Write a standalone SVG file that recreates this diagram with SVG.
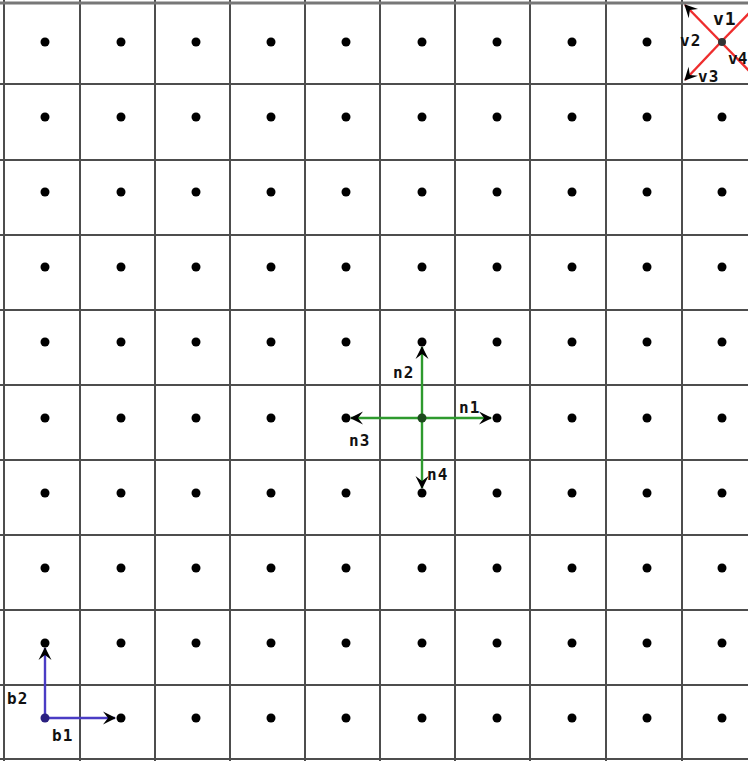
<svg xmlns="http://www.w3.org/2000/svg" width="748" height="761" viewBox="0 0 748 761">
<style>
.grid line{stroke:#4d4d4d;stroke-width:2}
.dot{fill:#000}
.lbl{font-family:"DejaVu Sans Mono","Liberation Mono",monospace;font-weight:bold;font-size:16px;fill:#111;letter-spacing:1px}
.g{stroke:#2e9a2e;stroke-width:2.4;fill:none}
.b{stroke:#4a3cc4;stroke-width:2.4;fill:none}
.r{stroke:#ee2d2d;stroke-width:2.4;fill:none}
</style>
<defs>
<marker id="ah" viewBox="-14 -8 16 16" markerWidth="16" markerHeight="16" refX="0" refY="0" orient="auto" markerUnits="userSpaceOnUse">
<path d="M1,0 L-12,-6.5 L-7,0 L-12,6.5 Z" fill="#000"/>
</marker>
</defs>
<rect width="748" height="761" fill="#fff"/>
<g id="grid" class="grid">
<line x1="4" y1="0" x2="4" y2="761"/>
<line x1="80" y1="0" x2="80" y2="761"/>
<line x1="155" y1="0" x2="155" y2="761"/>
<line x1="230" y1="0" x2="230" y2="761"/>
<line x1="305" y1="0" x2="305" y2="761"/>
<line x1="380" y1="0" x2="380" y2="761"/>
<line x1="455" y1="0" x2="455" y2="761"/>
<line x1="530" y1="0" x2="530" y2="761"/>
<line x1="606" y1="0" x2="606" y2="761"/>
<line x1="682" y1="0" x2="682" y2="761"/>
<line x1="0" y1="3" x2="748" y2="3" style="stroke:#777;stroke-width:3"/>
<line x1="0" y1="84" x2="748" y2="84"/>
<line x1="0" y1="160" x2="748" y2="160"/>
<line x1="0" y1="235" x2="748" y2="235"/>
<line x1="0" y1="310" x2="748" y2="310"/>
<line x1="0" y1="385" x2="748" y2="385"/>
<line x1="0" y1="460" x2="748" y2="460"/>
<line x1="0" y1="535" x2="748" y2="535"/>
<line x1="0" y1="610" x2="748" y2="610"/>
<line x1="0" y1="685" x2="748" y2="685"/>
<line x1="0" y1="759" x2="748" y2="759"/>
</g>
<g id="dots" class="dot">
<g id="row1"><circle cx="45" cy="42" r="4.5"/><circle cx="121" cy="42" r="4.5"/><circle cx="196" cy="42" r="4.5"/><circle cx="271" cy="42" r="4.5"/><circle cx="346" cy="42" r="4.5"/><circle cx="422" cy="42" r="4.5"/><circle cx="497" cy="42" r="4.5"/><circle cx="572" cy="42" r="4.5"/><circle cx="647" cy="42" r="4.5"/></g>
<g id="row2"><circle cx="45" cy="117" r="4.5"/><circle cx="121" cy="117" r="4.5"/><circle cx="196" cy="117" r="4.5"/><circle cx="271" cy="117" r="4.5"/><circle cx="346" cy="117" r="4.5"/><circle cx="422" cy="117" r="4.5"/><circle cx="497" cy="117" r="4.5"/><circle cx="572" cy="117" r="4.5"/><circle cx="647" cy="117" r="4.5"/><circle cx="722" cy="117" r="4.5"/></g>
<g id="row3"><circle cx="45" cy="192" r="4.5"/><circle cx="121" cy="192" r="4.5"/><circle cx="196" cy="192" r="4.5"/><circle cx="271" cy="192" r="4.5"/><circle cx="346" cy="192" r="4.5"/><circle cx="422" cy="192" r="4.5"/><circle cx="497" cy="192" r="4.5"/><circle cx="572" cy="192" r="4.5"/><circle cx="647" cy="192" r="4.5"/><circle cx="722" cy="192" r="4.5"/></g>
<g id="row4"><circle cx="45" cy="267" r="4.5"/><circle cx="121" cy="267" r="4.5"/><circle cx="196" cy="267" r="4.5"/><circle cx="271" cy="267" r="4.5"/><circle cx="346" cy="267" r="4.5"/><circle cx="422" cy="267" r="4.5"/><circle cx="497" cy="267" r="4.5"/><circle cx="572" cy="267" r="4.5"/><circle cx="647" cy="267" r="4.5"/><circle cx="722" cy="267" r="4.5"/></g>
<g id="row5"><circle cx="45" cy="342" r="4.5"/><circle cx="121" cy="342" r="4.5"/><circle cx="196" cy="342" r="4.5"/><circle cx="271" cy="342" r="4.5"/><circle cx="346" cy="342" r="4.5"/><circle cx="422" cy="342" r="4.5"/><circle cx="497" cy="342" r="4.5"/><circle cx="572" cy="342" r="4.5"/><circle cx="647" cy="342" r="4.5"/><circle cx="722" cy="342" r="4.5"/></g>
<g id="row6"><circle cx="45" cy="418" r="4.5"/><circle cx="121" cy="418" r="4.5"/><circle cx="196" cy="418" r="4.5"/><circle cx="271" cy="418" r="4.5"/><circle cx="346" cy="418" r="4.5"/><circle cx="497" cy="418" r="4.5"/><circle cx="572" cy="418" r="4.5"/><circle cx="647" cy="418" r="4.5"/><circle cx="722" cy="418" r="4.5"/></g>
<g id="row7"><circle cx="45" cy="493" r="4.5"/><circle cx="121" cy="493" r="4.5"/><circle cx="196" cy="493" r="4.5"/><circle cx="271" cy="493" r="4.5"/><circle cx="346" cy="493" r="4.5"/><circle cx="422" cy="493" r="4.5"/><circle cx="497" cy="493" r="4.5"/><circle cx="572" cy="493" r="4.5"/><circle cx="647" cy="493" r="4.5"/><circle cx="722" cy="493" r="4.5"/></g>
<g id="row8"><circle cx="45" cy="568" r="4.5"/><circle cx="121" cy="568" r="4.5"/><circle cx="196" cy="568" r="4.5"/><circle cx="271" cy="568" r="4.5"/><circle cx="346" cy="568" r="4.5"/><circle cx="422" cy="568" r="4.5"/><circle cx="497" cy="568" r="4.5"/><circle cx="572" cy="568" r="4.5"/><circle cx="647" cy="568" r="4.5"/><circle cx="722" cy="568" r="4.5"/></g>
<g id="row9"><circle cx="45" cy="643" r="4.5"/><circle cx="121" cy="643" r="4.5"/><circle cx="196" cy="643" r="4.5"/><circle cx="271" cy="643" r="4.5"/><circle cx="346" cy="643" r="4.5"/><circle cx="422" cy="643" r="4.5"/><circle cx="497" cy="643" r="4.5"/><circle cx="572" cy="643" r="4.5"/><circle cx="647" cy="643" r="4.5"/><circle cx="722" cy="643" r="4.5"/></g>
<g id="row10"><circle cx="121" cy="718" r="4.5"/><circle cx="196" cy="718" r="4.5"/><circle cx="271" cy="718" r="4.5"/><circle cx="346" cy="718" r="4.5"/><circle cx="422" cy="718" r="4.5"/><circle cx="497" cy="718" r="4.5"/><circle cx="572" cy="718" r="4.5"/><circle cx="647" cy="718" r="4.5"/><circle cx="722" cy="718" r="4.5"/></g>
</g>
<g id="connectors">
<line class="g" x1="422" y1="418" x2="491" y2="418" marker-end="url(#ah)"/>
<line class="g" x1="422" y1="418" x2="422" y2="347" marker-end="url(#ah)"/>
<line class="g" x1="422" y1="418" x2="351" y2="418" marker-end="url(#ah)"/>
<line class="g" x1="422" y1="418" x2="422" y2="488" marker-end="url(#ah)"/>
<line class="b" x1="45" y1="718" x2="45" y2="648" marker-end="url(#ah)"/>
<line class="b" x1="45" y1="718" x2="115" y2="718" marker-end="url(#ah)"/>
<line class="r" x1="721" y1="42" x2="685" y2="5" marker-end="url(#ah)"/>
<line class="r" x1="721" y1="42" x2="685" y2="80" marker-end="url(#ah)"/>
<line class="r" x1="721" y1="42" x2="760" y2="2"/>
<line class="r" x1="721" y1="42" x2="760" y2="82"/>
</g>
<g id="center-n"><circle cx="422" cy="418" r="4.5" fill="#1d4a1d"/></g>
<g id="center-b"><circle cx="45" cy="718" r="4.5" fill="#2a2080"/></g>
<g id="center-v"><circle cx="722" cy="42" r="4" fill="#333"/></g>
<g id="labels">
<text class="lbl" x="459" y="413">n1</text>
<text class="lbl" x="393" y="378">n2</text>
<text class="lbl" x="349" y="446">n3</text>
<text class="lbl" x="427" y="480">n4</text>
<text class="lbl" x="7" y="704">b2</text>
<text class="lbl" x="52" y="741">b1</text>
<text class="lbl" x="713" y="25" style="font-size:18px">v1</text>
<text class="lbl" x="680" y="46">v2</text>
<text class="lbl" x="698" y="82">v3</text>
<text class="lbl" x="728" y="64" style="letter-spacing:0">v4</text>
</g>
</svg>
